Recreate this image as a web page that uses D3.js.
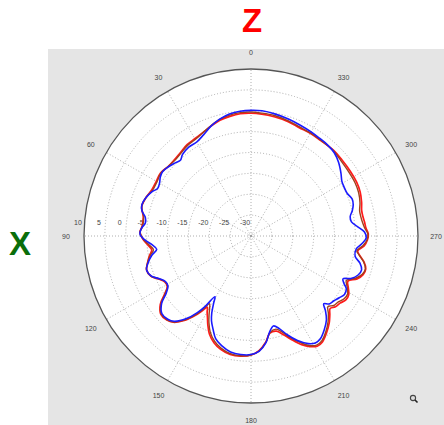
<!DOCTYPE html>
<html>
<head>
<meta charset="utf-8">
<script src="https://cdn.jsdelivr.net/npm/d3@7"></script>
<style>
  html, body { margin: 0; padding: 0; background: #fff; }
  svg { display: block; }
</style>
</head>
<body>
<svg id="chart" width="444" height="425"></svg>
<script>
// radial ticks (dB) and angle ticks (deg)
const rTicks = [10, 5, 0, -5, -10, -15, -20, -25, -30];
const angleTicks = [0, 30, 60, 90, 120, 150, 180, 210, 240, 270, 300, 330];

// red + brown traces share angles
const redAngles = [0, 5, 10, 15, 20, 25, 30, 35, 40, 45, 50, 55, 60, 65, 70, 75, 80, 85, 88, 92, 95, 98, 101, 105, 108, 112, 115, 118, 121, 124, 127, 131, 135, 138, 142, 145, 147, 148.5, 150, 152, 154, 157, 161, 165, 170, 175, 180, 184, 188, 191, 195, 198, 201, 205, 208, 211, 214, 218, 222, 225, 227.5, 230, 233, 236, 239, 242, 245, 248, 251, 254, 257, 260, 262, 265, 268, 271, 274, 277, 280, 283, 287, 292, 297, 303, 310, 316, 324, 330, 336, 342, 349, 355];
const redDb = [-0.6, -0.6, -0.9, -1.3, -2.0, -2.7, -3.1, -3.3, -3.8, -4.1, -4.1, -3.6, -3.8, -3.8, -3.2, -2.9, -3.8, -3.8, -3.4, -4.2, -5.2, -6.0, -5.2, -4.3, -3.7, -4.2, -5.6, -6.6, -6.6, -5.0, -2.8, -1.4, -1.5, -2.2, -4.4, -6.8, -8.7, -10.0, -9.0, -7.8, -6.4, -4.5, -2.9, -1.9, -1.2, -1.1, -1.5, -2.5, -4.4, -6.3, -6.4, -5.2, -3.6, -1.3, 0.0, 0.8, 0.6, -0.6, -2.0, -3.3, -4.3, -3.6, -3.3, -2.6, -2.7, -3.6, -4.4, -2.6, -1.6, -1.4, -2.2, -3.6, -4.2, -2.8, -2.1, -1.9, -2.4, -2.6, -2.8, -2.8, -2.3, -1.8, -1.6, -1.6, -1.6, -1.5, -1.7, -1.6, -1.6, -1.2, -0.9, -0.7];
const brownDb = [-0.3, -0.35, -0.6, -1.1, -1.9, -2.7, -3.3, -3.5, -4.0, -4.3, -4.1, -3.7, -4.0, -4.0, -3.2, -2.9, -3.9, -3.9, -3.4, -4.3, -5.5, -6.4, -5.4, -4.3, -3.7, -4.2, -5.7, -6.7, -6.7, -5.2, -3.0, -1.5, -1.6, -2.3, -4.6, -7.1, -9.3, -11.0, -10.2, -8.6, -7.0, -5.0, -3.3, -2.2, -1.4, -1.2, -1.5, -2.4, -4.3, -6.4, -6.9, -5.8, -4.0, -1.8, -0.3, 0.5, 0.3, -0.9, -2.4, -3.8, -5.0, -4.1, -3.8, -3.1, -3.0, -3.9, -4.8, -3.0, -1.8, -1.5, -2.3, -3.7, -4.4, -3.1, -2.2, -2.0, -2.7, -3.1, -3.3, -3.3, -2.7, -2.2, -2.0, -2.0, -1.9, -1.6, -1.6, -1.5, -1.4, -1.0, -0.6, -0.45];

const blueAngles = [0, 5, 10, 15, 20, 25, 30, 35, 40, 43, 46, 50, 54, 57, 60, 63, 66, 70, 74, 77, 80, 83, 86, 89, 92, 95, 98, 101, 105, 108, 112, 115, 118, 121, 124, 127, 131, 135, 138, 142, 145, 147, 149.3, 151, 153, 155, 158, 161, 165, 170, 175, 180, 184, 188, 191, 194, 197, 200, 204, 208, 211, 214, 218, 222, 225, 227, 229, 232, 235, 238, 241, 243, 245, 247, 250, 253, 256, 259, 263, 266, 269, 272, 275, 278, 281, 284, 287, 290, 294, 298, 301, 305, 310, 315, 320, 325, 330, 336, 342, 349, 355];
const blueDb = [0.1, 0.0, -0.3, -1.0, -2.0, -3.2, -4.0, -4.0, -4.5, -5.2, -4.8, -4.2, -3.8, -4.1, -4.7, -4.9, -4.0, -3.2, -2.8, -3.2, -4.3, -4.5, -3.7, -3.4, -4.5, -6.2, -7.2, -5.8, -4.4, -3.7, -4.3, -5.8, -6.8, -6.8, -5.5, -3.2, -1.7, -1.8, -2.5, -4.9, -7.6, -10.0, -13.1, -11.5, -9.3, -7.6, -5.8, -4.0, -2.8, -1.8, -1.5, -1.6, -2.3, -4.2, -6.6, -7.8, -6.8, -4.9, -2.6, -0.8, -0.1, -0.3, -1.5, -3.0, -4.8, -6.2, -5.2, -4.8, -4.2, -3.6, -3.9, -5.0, -5.7, -4.0, -2.7, -2.3, -3.1, -4.6, -4.6, -3.4, -2.4, -2.8, -4.4, -5.7, -5.8, -5.0, -4.4, -4.2, -4.8, -4.8, -4.6, -3.7, -2.6, -1.8, -1.5, -1.4, -1.2, -0.95, -0.6, -0.2, 0.1];

const W = 444, H = 425;
const cx = 251, cy = 236, R = 167;

const svg = d3.select("#chart");

// grey panel behind the polar plot
svg.append("rect")
  .attr("x", 48).attr("y", 49)
  .attr("width", W - 48).attr("height", H - 49)
  .attr("fill", "#e5e5e5");

const r = d3.scaleLinear().domain([-30, 10]).range([0, R]);

const g = svg.append("g").attr("transform", `translate(${cx},${cy})`);

g.append("circle").attr("r", R).attr("fill", "#fff");

// dotted rings
g.selectAll("circle.ring")
  .data(rTicks.filter(d => d < 10))
  .enter().append("circle")
  .attr("class", "ring")
  .attr("r", d => Math.max(r(d), 2))
  .attr("fill", "none")
  .attr("stroke", "#999")
  .attr("stroke-width", 0.8)
  .attr("stroke-dasharray", "1,2");

// dotted spokes
g.selectAll("line.spoke")
  .data(angleTicks)
  .enter().append("line")
  .attr("x1", 0).attr("y1", 0)
  .attr("x2", d => -R * Math.sin(d * Math.PI / 180))
  .attr("y2", d => -R * Math.cos(d * Math.PI / 180))
  .attr("stroke", "#999")
  .attr("stroke-width", 0.8)
  .attr("stroke-dasharray", "1,2");

// outer circle
g.append("circle").attr("r", R)
  .attr("fill", "none").attr("stroke", "#555").attr("stroke-width", 1.3);

// angle labels
g.selectAll("text.ang")
  .data(angleTicks)
  .enter().append("text")
  .attr("x", d => -185 * Math.sin(d * Math.PI / 180))
  .attr("y", d => -184 * Math.cos(d * Math.PI / 180) + 1)
  .attr("text-anchor", "middle")
  .attr("dominant-baseline", "middle")
  .attr("font-family", "Liberation Sans, Arial, sans-serif")
  .attr("font-size", 7)
  .attr("fill", "#444")
  .text(d => d);

// radial labels along 90 deg
g.selectAll("text.rad")
  .data(rTicks)
  .enter().append("text")
  .attr("x", d => -r(d) - 6)
  .attr("y", -13)
  .attr("text-anchor", "middle")
  .attr("dominant-baseline", "middle")
  .attr("font-family", "Liberation Sans, Arial, sans-serif")
  .attr("font-size", 7)
  .attr("fill", "#444")
  .text(d => d);

const line = d3.lineRadial()
  .angle(d => -d[0] * Math.PI / 180)
  .radius(d => r(d[1]))
  .curve(d3.curveCatmullRomClosed.alpha(0.5));

const traces = [
  { angles: redAngles, db: redDb, color: "#ff1a1a", width: 1.7 },
  { angles: redAngles, db: brownDb, color: "#a0401c", width: 1.4 },
  { angles: blueAngles, db: blueDb, color: "#1a1aff", width: 1.6 }
];

traces.forEach(t => {
  g.append("path")
    .datum(d3.zip(t.angles, t.db))
    .attr("d", line)
    .attr("fill", "none")
    .attr("stroke", t.color)
    .attr("stroke-width", t.width)
    .attr("stroke-linejoin", "round");
});

// axis letters
svg.append("text")
  .attr("x", 252).attr("y", 32)
  .attr("text-anchor", "middle")
  .attr("font-family", "Liberation Sans, Arial, sans-serif")
  .attr("font-weight", "bold")
  .attr("font-size", 33)
  .attr("fill", "#ff0000")
  .text("Z");

svg.append("text")
  .attr("x", 20).attr("y", 255)
  .attr("text-anchor", "middle")
  .attr("font-family", "Liberation Sans, Arial, sans-serif")
  .attr("font-weight", "bold")
  .attr("font-size", 33)
  .attr("fill", "#0a6e0a")
  .text("X");

// small zoom icon
const ic = svg.append("g").attr("transform", "translate(413,398)");
ic.append("circle").attr("r", 2.6).attr("fill", "#ddd").attr("stroke", "#444").attr("stroke-width", 1.1);
ic.append("line").attr("x1", 2).attr("y1", 2).attr("x2", 4.5).attr("y2", 4.5)
  .attr("stroke", "#222").attr("stroke-width", 1.6);
</script>
</body>
</html>
